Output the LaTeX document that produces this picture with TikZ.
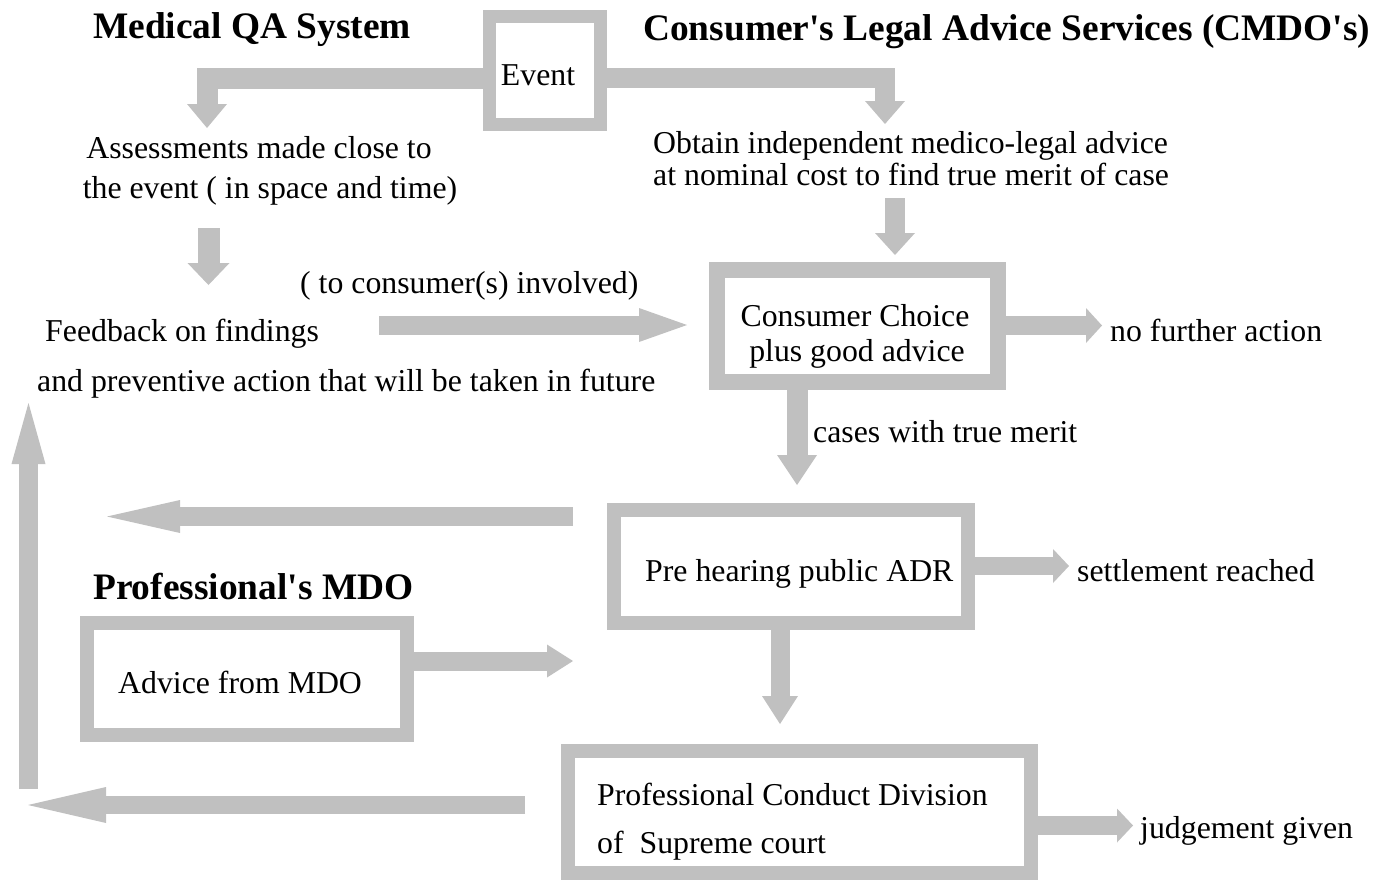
\documentclass[tikz,border=0pt]{standalone}
\usepackage{fontspec}
\setmainfont{Liberation Serif}
\usetikzlibrary{arrows.meta}
\definecolor{bg}{HTML}{C0C0C0}
\begin{document}
\begin{tikzpicture}[x=1pt,y=-1pt,
  txt/.style={anchor=base west,inner sep=0pt,font=\fontsize{31.8}{38}\selectfont},
  ctxt/.style={anchor=base,inner sep=0pt,font=\fontsize{31.8}{38}\selectfont},
  hd/.style={anchor=base west,inner sep=0pt,font=\fontsize{37.4}{44}\selectfont\bfseries},
  gbox/.style={draw=bg,line width=#1,inner sep=0pt,rectangle},
  barrow/.style n args={3}{draw=bg,line width=#1,line join=miter,-{Triangle[width=#2,length=#3,line width=0pt]}}]
\useasboundingbox (0,0) rectangle (1383,881);
% headings
\node[hd] (h1) at (93,38) {Medical QA System};
\node[hd] (h2) at (643,40) {Consumer\textquotesingle s Legal Advice Services (CMDO\textquotesingle s)};
\node[hd] (h3) at (93,599) {Professional\textquotesingle s MDO};
% boxes
\node[gbox=13pt,minimum width=111pt,minimum height=108pt] (ev) at (545,70.5) {};
\node[ctxt] (evt) at (538,85) {Event};
\node[gbox=16pt,minimum width=281pt,minimum height=112pt] (cc) at (857.5,326) {};
\node[ctxt] (cct1) at (855,326) {Consumer Choice};
\node[ctxt] (cct2) at (857,361) {plus good advice};
\node[gbox=14pt,minimum width=354pt,minimum height=113pt] (pre) at (791,566.5) {};
\node[txt] (pret) at (645,581) {Pre hearing public ADR};
\node[gbox=14pt,minimum width=320pt,minimum height=112pt] (adv) at (247,679) {};
\node[txt] (advt) at (118,693) {Advice from MDO};
\node[gbox=14pt,minimum width=463pt,minimum height=122pt] (pcd) at (799.5,812) {};
\node[txt] (pcdt1) at (597,805) {Professional Conduct Division};
\node[txt] (pcdt2) at (597,853) {of\ \ Supreme court};
% free texts
\node[ctxt] (as1) at (259,158) {Assessments made close to};
\node[ctxt] (as2) at (270,198) {the event ( in space and time)};
\node[txt] (ob1) at (653,153) {Obtain independent medico-legal advice};
\node[txt] (ob2) at (653,185) {at nominal cost to find true merit of case};
\node[txt] (tc) at (300,293) {( to consumer(s) involved)};
\node[txt] (fb1) at (45,341) {Feedback on findings};
\node[txt] (fb2) at (37,391) {and preventive action that will be taken in future};
\node[txt] (nfa) at (1110,341) {no further action};
\node[txt] (cwm) at (813,442) {cases with true merit};
\node[txt] (sr) at (1077,581) {settlement reached};
\node[txt] (jg) at (1140,838) {judgement given};
% free-end coordinates
\coordinate (a3s) at (208.5,228); \coordinate (a3e) at (208.5,285);
\coordinate (a4s) at (895,198);   \coordinate (a4e) at (895,255);
\coordinate (a5s) at (379,325);   \coordinate (a5e) at (687,325);
\coordinate (a8s) at (573,516.5); \coordinate (a8e) at (107,516.5);
\coordinate (a12s) at (28.5,789); \coordinate (a12e) at (28.5,403);
\coordinate (a13s) at (525,805);  \coordinate (a13e) at (28,805);
\coordinate (a11e) at (573,661);
% arrows
\draw[barrow={21pt}{40pt}{24pt}] (ev.west |- 0,78.5) -| (207,128);
\draw[barrow={20pt}{40pt}{23pt}] (ev.east |- 0,78) -| (885,124);
\draw[barrow={22pt}{42pt}{22pt}] (a3s) -- (a3e);
\draw[barrow={20pt}{40pt}{22pt}] (a4s) -- (a4e);
\draw[barrow={19pt}{34pt}{48pt}] (a5s) -- (a5e);
\draw[barrow={19pt}{35pt}{16pt}] (cc.east |- 0,325.5) -- (1102,325.5);
\draw[barrow={21pt}{40pt}{30pt}] (cc.south -| 797,0) -- (797,485);
\draw[barrow={19pt}{33pt}{73pt}] (a8s) -- (a8e);
\draw[barrow={18pt}{34pt}{16pt}] (pre.east |- 0,566) -- (1069,566);
\draw[barrow={19pt}{36pt}{28pt}] (pre.south -| 780,0) -- (780,724);
\draw[barrow={19pt}{33pt}{26pt}] (adv.east |- 0,661) -- (a11e);
\draw[barrow={19pt}{34pt}{61pt}] (a12s) -- (a12e);
\draw[barrow={18pt}{36pt}{78pt}] (a13s) -- (a13e);
\draw[barrow={19pt}{34pt}{16pt}] (pcd.east |- 0,825.5) -- (1133,825.5);
\end{tikzpicture}
\end{document}
